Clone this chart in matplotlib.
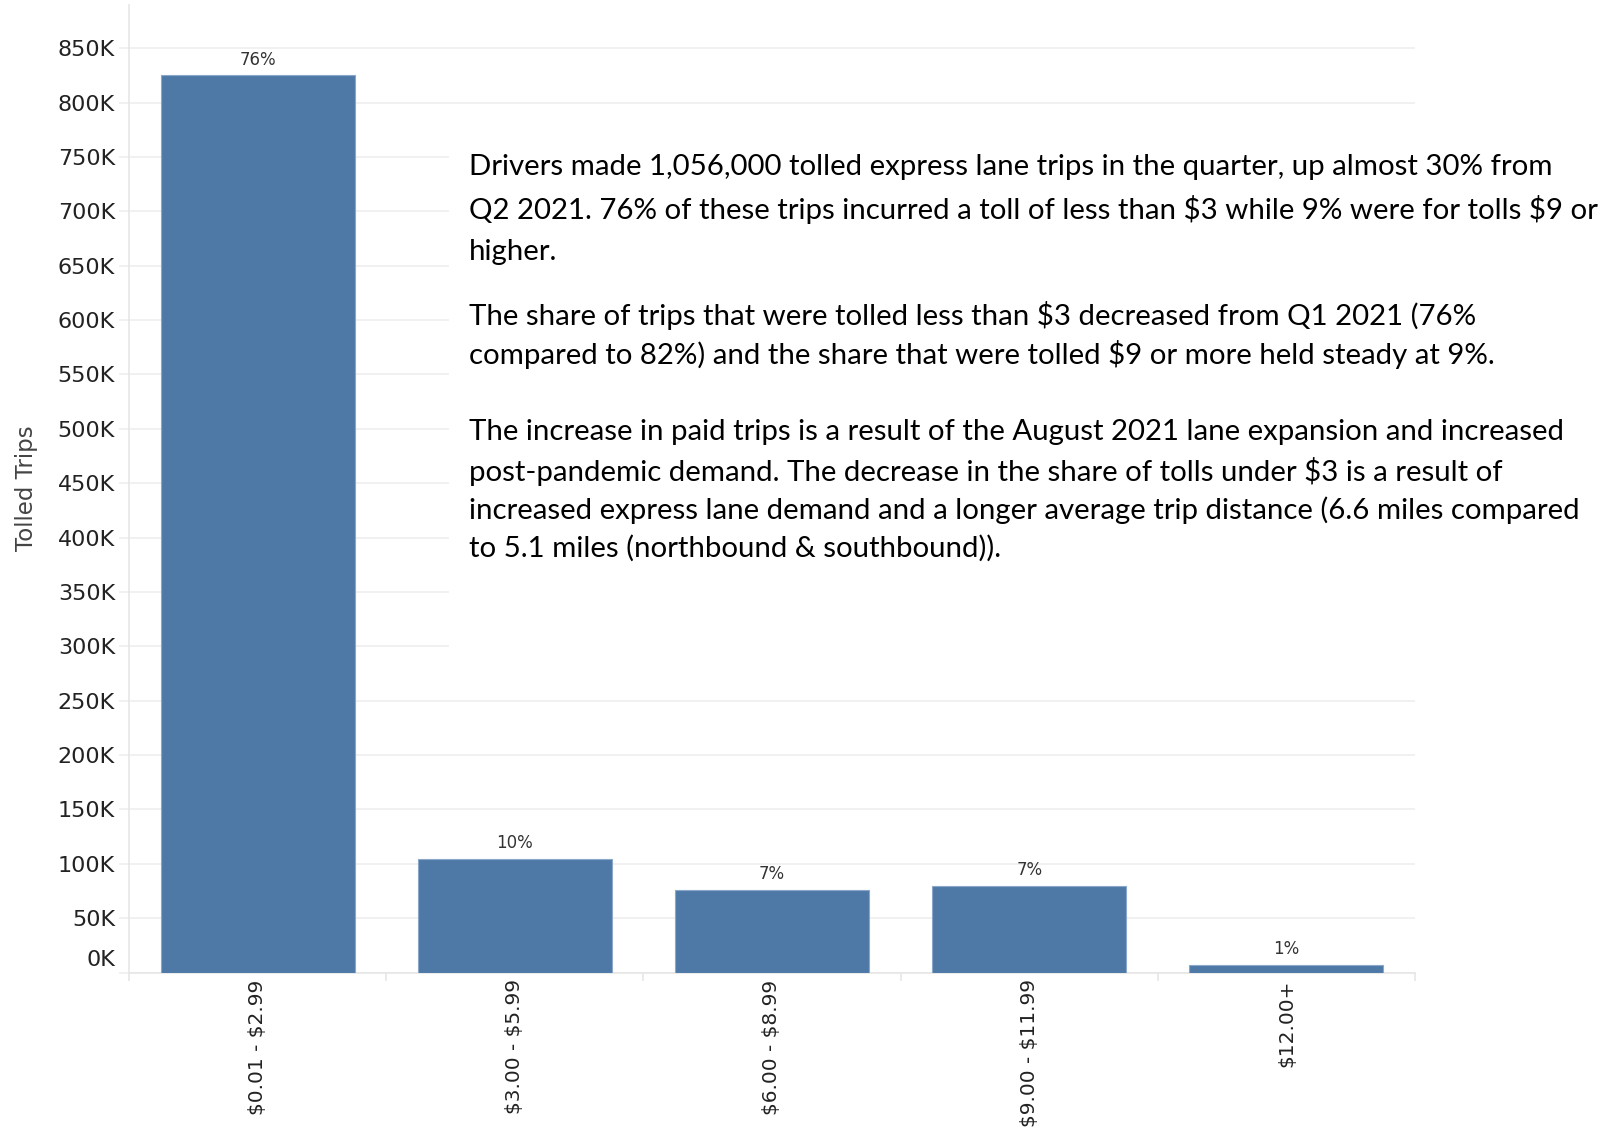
import matplotlib
matplotlib.use("Agg")
import matplotlib.pyplot as plt
from matplotlib.patches import Rectangle
from matplotlib.ticker import FuncFormatter, FixedLocator
import matplotlib.transforms as mtransforms
import numpy as np

plt.rcParams["text.parse_math"] = False
plt.rcParams["font.family"] = ["DejaVu Sans"]

# ---- data ----
categories = ["$0.01 - $2.99", "$3.00 - $5.99", "$6.00 - $8.99", "$9.00 - $11.99", "$12.00+"]
trips = [825000, 104000, 76000, 80000, 6500]
shares = ["76%", "10%", "7%", "7%", "1%"]
y_ticks = [0, 50000, 100000, 150000, 200000, 250000, 300000, 350000, 400000,
           450000, 500000, 550000, 600000, 650000, 700000, 750000, 800000, 850000]
y_label = "Tolled Trips"
para1 = ["Drivers made 1,056,000 tolled express lane trips in the quarter, up almost 30% from",
         "Q2 2021. 76% of these trips incurred a toll of less than $3 while 9% were for tolls $9 or",
         "higher."]
para2 = ["The share of trips that were tolled less than $3 decreased from Q1 2021 (76%",
         "compared to 82%) and the share that were tolled $9 or more held steady at 9%."]
para3 = ["The increase in paid trips is a result of the August 2021 lane expansion and increased",
         "post-pandemic demand. The decrease in the share of tolls under $3 is a result of",
         "increased express lane demand and a longer average trip distance (6.6 miles compared",
         "to 5.1 miles (northbound & southbound))."]

W, H = 1620, 1128
fig = plt.figure(figsize=(W / 100, H / 100), dpi=100)
fig.patch.set_facecolor("white")

ax_left, ax_right, ax_top, ax_bottom = 129, 1415, 5, 972.5
ax = fig.add_axes([ax_left / W, 1 - ax_bottom / H, (ax_right - ax_left) / W, (ax_bottom - ax_top) / H])

x = np.arange(len(categories))
bar_color = "#4e79a7"
bars = ax.bar(x, trips, width=0.755, color=bar_color, edgecolor="#8aa6c8", linewidth=0.8, zorder=3)

ax.set_xlim(-0.5, len(categories) - 0.5)
px_per_unit = (972.5 - 48.3) / 850000
ax.set_ylim(0, (972.5 - 5) / px_per_unit)

ax.yaxis.set_major_locator(FixedLocator(y_ticks))
ax.yaxis.set_major_formatter(FuncFormatter(lambda v, p: f"{int(round(v / 1000))}K"))
ax.grid(axis="y", color="#efefef", linewidth=1.2, zorder=0)
ax.set_axisbelow(True)

for s in ["top", "right"]:
    ax.spines[s].set_visible(False)
for s in ["left", "bottom"]:
    ax.spines[s].set_color("#e6e6e6")
    ax.spines[s].set_linewidth(1.2)

ax.tick_params(axis="y", length=7, color="#efefef", width=1.2, labelsize=16, labelcolor="#222222", pad=3)
ax.set_xticks(x)
ax.set_xticklabels(categories, rotation=90, fontsize=14.5, color="#222222", va="top")
ax.tick_params(axis="x", length=0, pad=5)
ax.set_xticks(np.arange(-0.5, len(categories), 1.0), minor=True)
ax.tick_params(axis="x", which="minor", length=6, color="#e6e6e6", width=1.2)

for lbl in ax.get_yticklabels():
    if lbl.get_text() == "0K":
        lbl.set_transform(lbl.get_transform() + mtransforms.ScaledTranslation(0, 14 / 100, fig.dpi_scale_trans))

ax.set_ylabel(y_label, fontsize=16.5, color="#444444")
ax.yaxis.set_label_coords((38 - ax_left) / (ax_right - ax_left), (972.5 - 488) / (972.5 - 5))

for b, s in zip(bars, shares):
    ax.annotate(s, (b.get_x() + b.get_width() / 2, b.get_height()), xytext=(0, 5),
                textcoords="offset points", ha="center", va="bottom", fontsize=12, color="#333333")

fig.patches.append(Rectangle((449 / W, 1 - 662 / H), 1 - 449 / W, (662 - 140) / H,
                             transform=fig.transFigure, facecolor="white", edgecolor="none", zorder=5))

text_x = 469 / W
line_ys = [[167.4, 209.7, 252.1], [315.1, 354.4], [431.9, 471.1, 510.4, 548.6]]
for para, ys in zip([para1, para2, para3], line_ys):
    for line, yy in zip(para, ys):
        fig.text(text_x, 1 - yy / H, line, fontsize=21.2, family="Lato", color="black",
                 ha="left", va="center", zorder=6)

fig.savefig("out.png", dpi=100, facecolor="white")
